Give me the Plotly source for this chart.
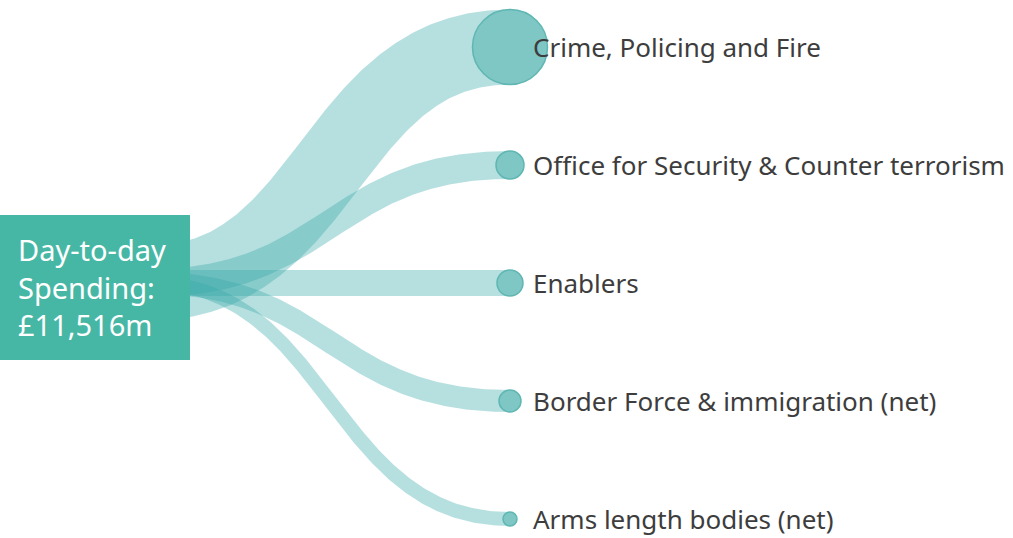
import numpy as np
import plotly.graph_objects as go

# spending breakdown (estimated from band widths), £m
total_label = "Day-to-day<br>Spending:<br>£11,516m"
categories = ["Crime, Policing and Fire",
              "Office for Security & Counter terrorism",
              "Enablers",
              "Border Force & immigration (net)",
              "Arms length bodies (net)"]
values = [5234, 1954, 1815, 1535, 977]

band_color = "rgba(58,169,169,0.37)"
node_fill = "#7ec7c4"
node_line = "#5fb6b3"
box_color = "#47b7a5"

# layout in pixel units
W, H = 1013, 538
src_x, src_y = 150, 283
dst_x = 510
label_x = 531
top_y, step_y = 47, 118
px_per_m = 75 / values[0]


def bezier_band(x0, y0, x1, y1, w, n=200):
    xm = (x0 + x1) / 2
    t = np.linspace(0, 1, n)
    bx = (1 - t)**3 * x0 + 3 * (1 - t)**2 * t * xm + 3 * (1 - t) * t**2 * xm + t**3 * x1
    by = (1 - t)**3 * y0 + 3 * (1 - t)**2 * t * y0 + 3 * (1 - t) * t**2 * y1 + t**3 * y1
    dx = np.gradient(bx)
    dy = np.gradient(by)
    ln = np.hypot(dx, dy)
    nx, ny = -dy / ln, dx / ln
    ux, uy = bx + nx * w / 2, by + ny * w / 2
    lx, ly = bx - nx * w / 2, by - ny * w / 2
    return np.concatenate([ux, lx[::-1]]), np.concatenate([uy, ly[::-1]])


fig = go.Figure()

node_y = [top_y + i * step_y for i in range(len(categories))]
widths = [v * px_per_m for v in values]

for cat, y, w in zip(categories, node_y, widths):
    px, py = bezier_band(src_x, src_y, dst_x, y, w)
    fig.add_trace(go.Scatter(x=px, y=py, mode="lines", fill="toself", fillcolor=band_color,
                             line=dict(width=0), hoverinfo="skip", name=cat))

fig.add_trace(go.Scatter(x=[dst_x] * len(categories), y=node_y, mode="markers", opacity=1,
                         marker=dict(size=widths, color=node_fill, opacity=1,
                                     line=dict(color=node_line, width=1.5)),
                         text=categories, cliponaxis=False, hoverinfo="text"))

for cat, y in zip(categories, node_y):
    fig.add_annotation(x=label_x, y=y, text=cat, showarrow=False, xanchor="left", yanchor="middle",
                       font=dict(family="Noto Sans", size=26, color="#3d3d3d"))

# source box
fig.add_shape(type="rect", x0=0, x1=190, y0=215, y1=360, fillcolor=box_color,
              line=dict(width=0), layer="above")
fig.add_annotation(x=16, y=287, text=total_label, showarrow=False, xanchor="left", yanchor="middle",
                   align="left", font=dict(family="Noto Sans", size=29, color="white"))

fig.update_layout(width=W, height=H, margin=dict(l=0, r=0, t=0, b=0),
                  plot_bgcolor="white", paper_bgcolor="white", showlegend=False,
                  xaxis=dict(range=[0, W], visible=False, fixedrange=True),
                  yaxis=dict(range=[H, 0], visible=False, fixedrange=True))

# drop the default page margin so the chart fills the window
fig.write_html("out.html", config={"displayModeBar": False},
               post_script="document.body.style.margin='0';document.body.style.overflow='hidden';")
